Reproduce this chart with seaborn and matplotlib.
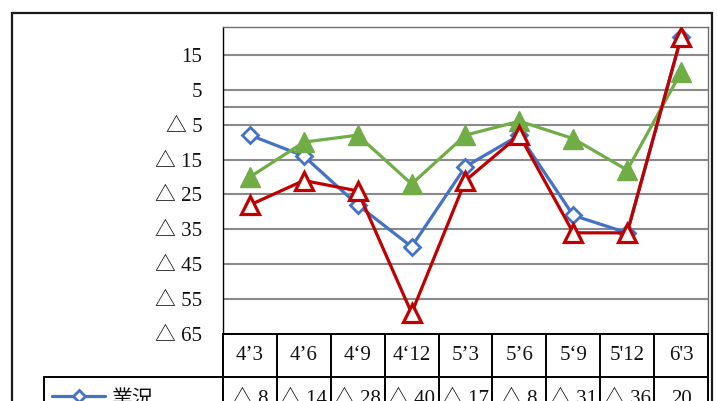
import matplotlib
matplotlib.use("Agg")
import matplotlib.pyplot as plt
import seaborn as sns
import pandas as pd
from matplotlib.lines import Line2D
from matplotlib.patches import Rectangle
from matplotlib.transforms import blended_transform_factory

# ---------------- data ----------------
categories = ["4’3", "4’6", "4‘9", "4‘12", "5’3", "5’6", "5‘9", "5'12", "6'3"]
gyoukyou = [-8, -14, -28, -40, -17, -8, -31, -36, 20]      # 業況 (blue)
series_green = [-20, -10, -8, -22, -8, -4, -9, -18, 10]    # green
series_red = [-28, -21, -24, -59, -21, -8, -36, -36, 20]   # red
series_name = "業況"
ytick_values = [15, 5, -5, -15, -25, -35, -45, -55, -65]


def fmt(v):
    return f"△ {abs(v)}" if v < 0 else f"{v}"


sns.set_style("white")
plt.rcParams["font.family"] = ["Liberation Serif", "Noto Sans CJK JP", "DejaVu Sans"]

W, H = 717, 401
fig = plt.figure(figsize=(W / 100, H / 100), dpi=100)


def fx(x):
    return x / W


def fy(y):
    return 1 - y / H


ax = fig.add_axes([fx(223), fy(334), fx(708) - fx(223), fy(27) - fy(334)])

df = pd.DataFrame({"cat": categories, "blue": gyoukyou,
                   "green": series_green, "red": series_red})

BLUE, GREEN, RED = "#4472C4", "#70AD47", "#C00000"
FS = 15

sns.lineplot(data=df, x="cat", y="blue", ax=ax, sort=False, color=BLUE, lw=2.3,
             marker="D", markersize=8.5, markerfacecolor="white",
             markeredgecolor=BLUE, markeredgewidth=2.0, zorder=3)
sns.lineplot(data=df, x="cat", y="green", ax=ax, sort=False, color=GREEN, lw=2.3,
             marker="^", markersize=14, markerfacecolor=GREEN,
             markeredgecolor=GREEN, markeredgewidth=1.0, zorder=4)
sns.lineplot(data=df, x="cat", y="red", ax=ax, sort=False, color=RED, lw=2.3,
             marker="^", markersize=12.5, markerfacecolor="white",
             markeredgecolor=RED, markeredgewidth=2.3, zorder=5)

ax.set_xlim(-0.5, len(categories) - 0.5)
ax.set_ylim(-65, 23)
ax.set_xlabel("")
ax.set_ylabel("")
ax.set_xticks(range(len(categories)))
ax.set_xticklabels([])
ax.tick_params(axis="x", length=0)
ax.set_yticks(ytick_values)
ax.set_yticklabels([fmt(v) for v in ytick_values], fontsize=FS)
ax.tick_params(axis="y", length=0, pad=15, labelcolor="#111111")
ax.set_axisbelow(True)
ax.yaxis.grid(True, color="#8a8a8a", lw=1.5)
ax.xaxis.grid(False)
ax.axhline(0, color="#8a8a8a", lw=1.5, zorder=1)
for s in ["top", "right"]:
    ax.spines[s].set_color("#6e6e6e")
    ax.spines[s].set_linewidth(1.0)
ax.spines["left"].set_color("black")
ax.spines["left"].set_linewidth(1.0)
ax.spines["bottom"].set_color("black")
ax.spines["bottom"].set_linewidth(1.4)

# ---------------- data table ----------------
trans = blended_transform_factory(ax.transData, fig.transFigure)
row_top, row_mid, row_bot = 334, 377, 425
for i in range(len(categories) + 1):
    xpos = i - 0.5
    fig.add_artist(Line2D([xpos, xpos], [fy(row_top), fy(row_bot)],
                          transform=trans, color="black", lw=1.4))
pos = ax.get_position()
fig.add_artist(Line2D([fx(44), pos.x1], [fy(row_mid), fy(row_mid)],
                      transform=fig.transFigure, color="black", lw=1.4))
fig.add_artist(Line2D([fx(44), fx(44)], [fy(row_mid), fy(row_bot)],
                      transform=fig.transFigure, color="black", lw=1.4))

for i, c in enumerate(categories):
    fig.text(i, fy(355.5), c, transform=trans, ha="center", va="center",
             fontsize=FS, color="#111111")
for i, v in enumerate(gyoukyou):
    fig.text(i, fy(399), fmt(v), transform=trans, ha="center", va="center",
             fontsize=FS, color="#111111")

# legend key in the table
fig.add_artist(Line2D([fx(52), fx(105)], [fy(396), fy(396)],
                      transform=fig.transFigure, color=BLUE, lw=2.3))
fig.add_artist(Line2D([fx(78.5)], [fy(396)], transform=fig.transFigure,
                      marker="D", markersize=6.5, markerfacecolor="white",
                      markeredgecolor=BLUE, markeredgewidth=2.0, color=BLUE))
fig.text(fx(111), fy(399), series_name, ha="left", va="center", fontsize=FS,
         family=["Noto Sans CJK JP", "DejaVu Sans"], color="#111111")

# outer chart frame
fig.add_artist(Rectangle((fx(12), fy(440)), fx(712) - fx(12), fy(13) - fy(440),
                         transform=fig.transFigure, fill=False, lw=1.6,
                         ec="#1a1a1a"))

fig.savefig("out.png", dpi=100)
